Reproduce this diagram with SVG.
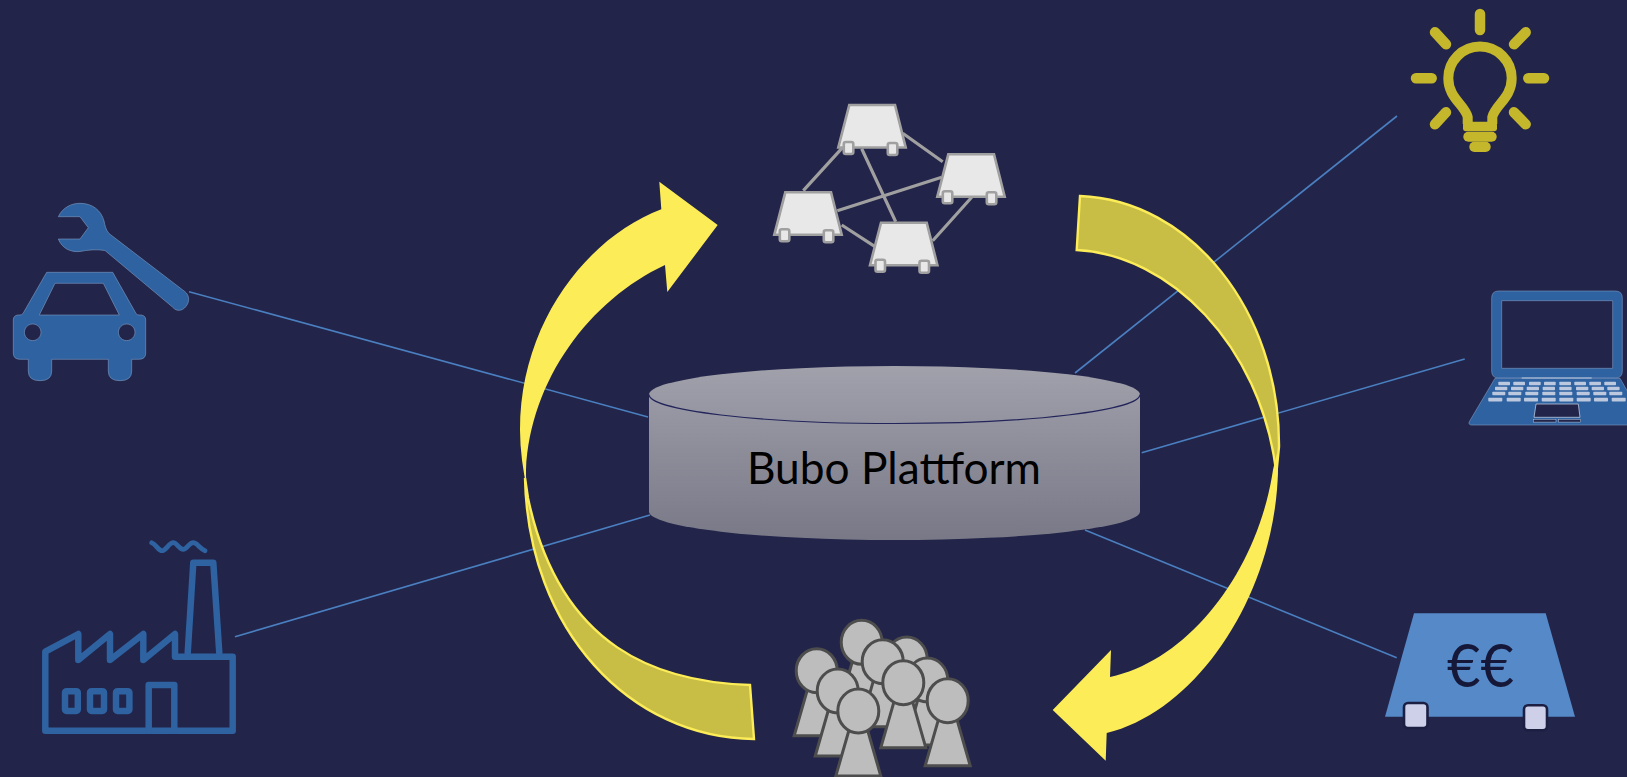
<svg xmlns="http://www.w3.org/2000/svg" width="1627" height="777" viewBox="0 0 1627 777">
<style>
.link{stroke:#4a7fc0;stroke-width:1.6;fill:none}
.blue{fill:#2e62a0;stroke:#7f9cc4;stroke-width:.6}
.fl{fill:none;stroke:#2e62a0;stroke-width:6.500;stroke-linejoin:round;stroke-linecap:round}
.smoke{fill:none;stroke:#2e62a0;stroke-width:4.800;stroke-linecap:round}
.bulb{fill:none;stroke:#c4b72c;stroke-width:10.500;stroke-linecap:round}
.bf{fill:#c4b72c}
.edge{stroke:#a0a0a0;stroke-width:3.200;fill:none}
.band{fill:#c8bd45;stroke:#fcec58;stroke-width:2.400}
.arrow{fill:#fcec58}
.key{fill:#bcc8de}
.foot{fill:#cdd0e8;stroke:#1d1f42;stroke-width:2.600}
</style>
<defs>
<linearGradient id="cyl" gradientUnits="userSpaceOnUse" x1="0" y1="366" x2="0" y2="540">
<stop offset="0" stop-color="#a1a1ac"/><stop offset="1" stop-color="#787887"/>
</linearGradient>
<g id="pc">
<path d="M1 1H46.700L57.400 43.500H-10Z" fill="#e8e8e8" stroke="#a0a0a0" stroke-width="2.600"/>
<rect x="-4.500" y="38" width="9.500" height="12" rx="2" fill="#e8e8e8" stroke="#a0a0a0" stroke-width="2.600"/>
<rect x="39.500" y="39" width="9.500" height="12" rx="2" fill="#e8e8e8" stroke="#a0a0a0" stroke-width="2.600"/>
</g>
<g id="person" fill="#bdbdbd" stroke="#4d4d4d" stroke-width="3">
<path d="M-9 18H9L22.500 65H-22.500Z"/>
<ellipse rx="20.500" ry="22"/>
</g>
</defs>
<rect width="1627" height="777" fill="#222449"/>

<g id="connectors">
<path class="link" d="M189 291.700L648 417"/>
<path class="link" d="M235 636.700L650 515"/>
<path class="link" d="M1397 116L1075 373"/>
<path class="link" d="M1464.700 359L1141.700 452.700"/>
<path class="link" d="M1085 530L1396.700 657.700"/>
</g>

<g id="platform">
<path d="M649 394.500A245.500 28.500 0 0 1 1140 394.500V511.500A245.500 28.500 0 0 1 649 511.500Z" fill="url(#cyl)"/>
<path d="M649 394.500A245.500 29 0 0 0 1140 394.500" fill="none" stroke="#22245a" stroke-width="1.200"/>
<text x="747" y="484" font-family="Lato, 'Open Sans', sans-serif" font-size="43.500" fill="#000" textLength="294" lengthAdjust="spacingAndGlyphs">Bubo Plattform</text>
</g>

<g id="cycle">
<path class="band" d="M1080 196C1190 200 1280 310 1279 447L1276 477L1276 470C1260 345 1170 255 1076.700 250Z"/>
<path class="band" d="M525 478C528 630 630 738 754 739L750 685C660 682 560 650 528 498Z"/>
<path class="arrow" d="M717.700 225L659.300 181.700L661.300 209.300C590 236 520 320 520 430C520 450 523 470 527 490C526 484 526 477 526 470C530 380 590 300 665 265L667.300 292Z"/>
<path class="arrow" d="M1052.700 710L1111 650L1110 677C1190 660 1258 570 1273 470C1274 465 1275.500 460 1277 453C1278 458 1278 464 1278 470C1276 590 1200 710 1106.700 733L1105.700 760.700Z"/>
</g>

<g id="network">
<path class="edge" d="M842.700 147.300L803.300 190.700M861.700 148.700L895.700 221.700M902.700 133.300L942.700 161.700M837.300 210.700L941.700 177.300M841.700 225L875 246.700M971.700 197.300L932.700 240.700"/>
<use href="#pc" x="848.300" y="104"/>
<use href="#pc" x="947.300" y="153.300"/>
<use href="#pc" x="784.300" y="191.300"/>
<use href="#pc" x="880" y="221.700"/>
</g>

<g id="car-service">
<path class="blue" fill-rule="evenodd" d="M46.700 272.300H112.700L136 313.500Q137 315 139 315H141Q145.700 315.500 145.700 320V353Q145.700 359.300 139 359.300H131.700V371Q131.700 380.700 120 380.700Q108.300 380.700 108.300 371V359.300H51.700V371Q51.700 380.700 40 380.700Q28.300 380.700 28.300 371V359.300H20Q13.300 359.300 13.300 353V320Q13.300 315.500 18 315H20Q21.700 315 23 313.500ZM55 283.300L39.300 315H119.300L103.300 283.300ZM32.700 324A8.300 8.300 0 1 0 32.701 324ZM126.700 324A8.300 8.300 0 1 0 126.701 324Z"/>
<path class="blue" d="M58.300 216.700C63 207 72 203.300 80 203.300C92 203.300 101 210 104 221C105 226 106 230 109 233.500L185 291.700C189 295 189.500 300 187.500 304C184 311 177 312.500 172.500 307L105 250.500C97 249 87 250 80 251.500C70 252.500 62 248 58.300 239H80L88.300 227.700L80 216.700Z"/>
</g>

<g id="factory">
<path class="fl" d="M45.300 651.700L78.300 634V660L110 634V660L143.300 634V660L175 634V656.700H232.700V730.700H45.300Z"/>
<path class="fl" d="M187.700 653L193.300 562.700H213.300L219.300 653"/>
<path class="fl" d="M148.700 730.700V685H174.300V730.700"/>
<rect class="fl" x="65" y="691.200" width="12.800" height="19.800" rx="1.500"/>
<rect class="fl" x="90" y="691.200" width="14" height="19.800" rx="1.500"/>
<rect class="fl" x="116" y="691.200" width="13.400" height="19.800" rx="1.500"/>
<path class="smoke" d="M151.700 542.700C156 544 158 550.700 162 550.700C166 550.700 169 542.700 173.300 542.700C177 542.700 179 549.300 183.300 549.300C187 549.300 189 542.700 193.300 542.700C197 542.700 200 549 205 550.700"/>
</g>

<g id="idea">
<path class="bulb" d="M1480 14V30M1416 78.300H1431.700M1528.300 78.300H1544M1435 32.300L1446 44.300M1525.700 32.300L1514 44.300M1446 112.300L1435 124.300M1514 112.300L1525.700 124.300"/>
<path fill="none" stroke="#c4b72c" stroke-width="10" stroke-linejoin="round" d="M1467.700 124V117C1465 105 1448.300 98 1448.300 78.300A31.700 31.700 0 0 1 1511.700 78.300C1511.700 98 1495 105 1492.300 117V124"/>
<rect class="bf" x="1463" y="121.700" width="34" height="9.500" rx="3"/>
<rect class="bf" x="1463.300" y="131.700" width="33.400" height="10" rx="5"/>
<rect class="bf" x="1469.300" y="141.700" width="21.400" height="10.300" rx="5"/>
</g>

<g id="laptop">
<path class="blue" fill-rule="evenodd" d="M1498.700 291H1615.300Q1622.300 291 1622.300 298V371Q1622.300 378 1615.300 378H1498.700Q1491.700 378 1491.700 371V298Q1491.700 291 1498.700 291ZM1501.700 300.700V368.300H1612.700V300.700Z"/>
<path class="blue" d="M1495 378.300H1620L1644.700 421.700L1642 425H1472Q1468 425 1469.300 421.700Z"/>
<rect x="1521.700" y="377.300" width="70" height="1.400" fill="#9fb3d0"/>
<g class="key">
<rect x="1498.300" y="381.700" width="11.700" height="3.500" rx=".8"/><rect x="1513.300" y="381.700" width="11.700" height="3.500" rx=".8"/><rect x="1529" y="381.700" width="11.700" height="3.500" rx=".8"/><rect x="1544" y="381.700" width="11.700" height="3.500" rx=".8"/><rect x="1559.300" y="381.700" width="11.700" height="3.500" rx=".8"/><rect x="1574.300" y="381.700" width="11.700" height="3.500" rx=".8"/><rect x="1589.300" y="381.700" width="11.700" height="3.500" rx=".8"/><rect x="1604.300" y="381.700" width="11.700" height="3.500" rx=".8"/>
<rect x="1495" y="386.700" width="12.300" height="3.500" rx=".8"/><rect x="1511" y="386.700" width="12.300" height="3.500" rx=".8"/><rect x="1526.700" y="386.700" width="12.300" height="3.500" rx=".8"/><rect x="1542.700" y="386.700" width="12.300" height="3.500" rx=".8"/><rect x="1559.300" y="386.700" width="12.300" height="3.500" rx=".8"/><rect x="1576" y="386.700" width="12.300" height="3.500" rx=".8"/><rect x="1591.700" y="386.700" width="12.300" height="3.500" rx=".8"/><rect x="1607.300" y="386.700" width="12.300" height="3.500" rx=".8"/>
<rect x="1492.300" y="391.700" width="13" height="3.500" rx=".8"/><rect x="1508.300" y="391.700" width="13" height="3.500" rx=".8"/><rect x="1525.300" y="391.700" width="13" height="3.500" rx=".8"/><rect x="1542.300" y="391.700" width="13" height="3.500" rx=".8"/><rect x="1559.300" y="391.700" width="13" height="3.500" rx=".8"/><rect x="1576.700" y="391.700" width="13" height="3.500" rx=".8"/><rect x="1593.300" y="391.700" width="13" height="3.500" rx=".8"/><rect x="1609.300" y="391.700" width="13" height="3.500" rx=".8"/>
<rect x="1488.300" y="397.700" width="14" height="3.800" rx=".8"/><rect x="1506.700" y="397.700" width="14" height="3.800" rx=".8"/><rect x="1524" y="397.700" width="14" height="3.800" rx=".8"/><rect x="1541.700" y="397.700" width="14" height="3.800" rx=".8"/><rect x="1559.300" y="397.700" width="14" height="3.800" rx=".8"/><rect x="1576.700" y="397.700" width="14" height="3.800" rx=".8"/><rect x="1594" y="397.700" width="14" height="3.800" rx=".8"/><rect x="1611.700" y="397.700" width="14" height="3.800" rx=".8"/>
</g>
<path d="M1536 404H1578.300L1580 417.300H1534Z" fill="#222449" stroke="#bcc8de" stroke-width=".8"/>
<rect x="1533.300" y="419.300" width="22.700" height="2.800" fill="#222449" stroke="#bcc8de" stroke-width=".5"/>
<rect x="1558.300" y="419.300" width="22.400" height="2.800" fill="#222449" stroke="#bcc8de" stroke-width=".5"/>
</g>

<g id="money">
<path d="M1414 613.300H1545.700L1575 716.700H1385Z" fill="#5589c8"/>
<rect class="foot" x="1404" y="703" width="23.500" height="25" rx="4"/>
<rect class="foot" x="1524" y="705.300" width="23" height="25" rx="4"/>
<text x="1447" y="687.300" font-family="Lato, 'Open Sans', sans-serif" font-size="60" fill="#16183a" textLength="67" lengthAdjust="spacingAndGlyphs">€€</text>
</g>

<g id="people">
<use href="#person" x="861.700" y="642.300"/>
<use href="#person" x="906.700" y="659"/>
<use href="#person" x="927.300" y="680"/>
<use href="#person" x="816.700" y="670.700"/>
<use href="#person" x="882.700" y="661.700"/>
<use href="#person" x="837.700" y="691"/>
<use href="#person" x="947.700" y="700.700"/>
<use href="#person" x="903.300" y="682.700"/>
<use href="#person" x="858.300" y="711"/>
</g>
</svg>
